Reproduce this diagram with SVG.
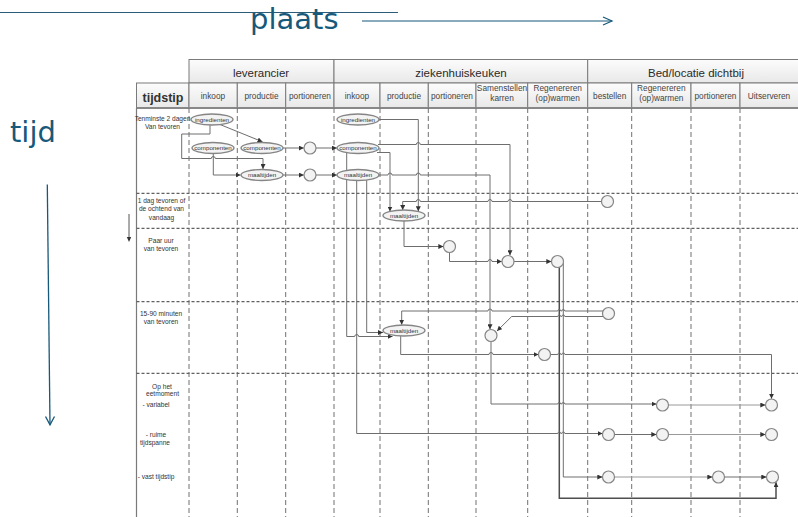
<svg xmlns="http://www.w3.org/2000/svg" width="798" height="517" viewBox="0 0 798 517">
<defs>
<linearGradient id="hg" x1="0" y1="0" x2="0" y2="1">
<stop offset="0" stop-color="#fcfcfc"/>
<stop offset="1" stop-color="#e8e8e8"/>
</linearGradient>
<marker id="ar" viewBox="0 0 10 10" refX="10" refY="5" markerWidth="5" markerHeight="5" markerUnits="userSpaceOnUse" orient="auto">
<path d="M0,0 L10,5 L0,10 z" fill="#333"/>
</marker>
</defs>
<style>
text { font-family: "Liberation Sans", Arial, sans-serif; }
.big { font-family: "DejaVu Sans", Verdana, sans-serif; font-size: 29px; fill: #17597a; }
.h1 { font-size: 11.5px; fill: #2a2a2a; text-anchor: middle; }
.h2 { font-size: 8.3px; fill: #444; text-anchor: middle; }
.row { font-size: 6.6px; fill: #333; text-anchor: middle; }
.lbl { font-size: 6.2px; fill: #333; text-anchor: middle; }
.cell { fill: url(#hg); stroke: #7a7a7a; stroke-width: 1; }
.vd { stroke: #707070; stroke-width: 1; stroke-dasharray: 5 3; fill: none; }
.hd { stroke: #606060; stroke-width: 1.2; stroke-dasharray: 3 2; fill: none; }
.el { fill: #f3f3f3; stroke: #858585; stroke-width: 1.4; }
.ci { fill: #f3f3f3; stroke: #858585; stroke-width: 1.2; }
.cn { fill: none; stroke: #6e6e6e; stroke-width: 1; marker-end: url(#ar); }
</style>
<rect width="798" height="517" fill="#ffffff"/>

<!-- axes -->
<g id="axes">
<line x1="0" y1="12.5" x2="398" y2="12.5" stroke="#2b5d78" stroke-width="1"/>
<text class="big" x="250" y="29">plaats</text>
<line x1="362" y1="21" x2="612" y2="21" stroke="#17597a" stroke-width="1.2"/>
<polyline points="603,17 612,21 603,25" fill="none" stroke="#17597a" stroke-width="1.2"/>
<text class="big" x="10" y="141.5">tijd</text>
<line x1="47.3" y1="184.5" x2="50" y2="424.5" stroke="#17597a" stroke-width="1.3"/>
<polyline points="45.5,416.5 50,424.8 54.5,416.5" fill="none" stroke="#17597a" stroke-width="1.3"/>
<line x1="129" y1="214" x2="129" y2="238" stroke="#444" stroke-width="0.9"/>
<path d="M126.8,237 L129,242 L131.2,237 z" fill="#333"/>
</g>

<!-- table -->
<g id="table">
<rect class="cell" x="189" y="59.5" width="145" height="23.5"/>
<rect class="cell" x="334" y="59.5" width="253.7" height="23.5"/>
<rect class="cell" x="587.7" y="59.5" width="215" height="23.5"/>
<rect class="cell" x="136.5" y="83" width="52.5" height="25"/>
<rect class="cell" x="189" y="83" width="48.3" height="25"/>
<rect class="cell" x="237.3" y="83" width="48.4" height="25"/>
<rect class="cell" x="285.7" y="83" width="48.3" height="25"/>
<rect class="cell" x="334" y="83" width="46" height="25"/>
<rect class="cell" x="380" y="83" width="48.3" height="25"/>
<rect class="cell" x="428.3" y="83" width="47.7" height="25"/>
<rect class="cell" x="476" y="83" width="51.7" height="25"/>
<rect class="cell" x="527.7" y="83" width="60" height="25"/>
<rect class="cell" x="587.7" y="83" width="44" height="25"/>
<rect class="cell" x="631.7" y="83" width="59.3" height="25"/>
<rect class="cell" x="691" y="83" width="49" height="25"/>
<rect class="cell" x="740" y="83" width="62" height="25"/>
<line x1="136.5" y1="108" x2="798" y2="108" stroke="#888" stroke-width="1.8"/>
<line x1="136.5" y1="108" x2="136.5" y2="517" stroke="#7a7a7a" stroke-width="1.2"/>

<text class="h1" x="261" y="76.5">leverancier</text>
<text class="h1" x="461" y="76.5">ziekenhuiskeuken</text>
<text class="h1" x="696" y="76.5">Bed/locatie dichtbij</text>
<text x="163" y="101.5" style="font-size:12.5px;font-weight:bold;fill:#333;text-anchor:middle">tijdstip</text>
<text class="h2" x="213" y="99">inkoop</text>
<text class="h2" x="261.5" y="99">productie</text>
<text class="h2" x="310" y="99">portioneren</text>
<text class="h2" x="357" y="99">inkoop</text>
<text class="h2" x="404" y="99">productie</text>
<text class="h2" x="452" y="99">portioneren</text>
<text class="h2" x="502" y="91">Samenstellen</text>
<text class="h2" x="502" y="100.5">karren</text>
<text class="h2" x="557.7" y="91">Regenereren</text>
<text class="h2" x="557.7" y="100.5">(op)warmen</text>
<text class="h2" x="609.7" y="98.5">bestellen</text>
<text class="h2" x="661.3" y="91">Regenereren</text>
<text class="h2" x="661.3" y="100.5">(op)warmen</text>
<text class="h2" x="715.5" y="98.5">portioneren</text>
<text class="h2" x="769" y="98.5">Uitserveren</text>

<g id="grid">
<line class="vd" x1="189" y1="108" x2="189" y2="517"/>
<line class="vd" x1="237.3" y1="108" x2="237.3" y2="517"/>
<line class="vd" x1="285.7" y1="108" x2="285.7" y2="517"/>
<line class="vd" x1="334" y1="108" x2="334" y2="517"/>
<line class="vd" x1="380" y1="108" x2="380" y2="517"/>
<line class="vd" x1="428.3" y1="108" x2="428.3" y2="517"/>
<line class="vd" x1="476" y1="108" x2="476" y2="517"/>
<line class="vd" x1="527.7" y1="108" x2="527.7" y2="517"/>
<line class="vd" x1="587.7" y1="108" x2="587.7" y2="517"/>
<line class="vd" x1="631.7" y1="108" x2="631.7" y2="517"/>
<line class="vd" x1="691" y1="108" x2="691" y2="517"/>
<line class="vd" x1="740" y1="108" x2="740" y2="517"/>
<line class="hd" x1="136.5" y1="193.3" x2="798" y2="193.3"/>
<line class="hd" x1="136.5" y1="228.3" x2="798" y2="228.3"/>
<line class="hd" x1="136.5" y1="301.7" x2="798" y2="301.7"/>
<line class="hd" x1="136.5" y1="373.3" x2="798" y2="373.3"/>
</g>

<g id="rowlabels">
<text class="row" x="162.5" y="120.5">Tenminste 2 dagen</text>
<text class="row" x="162.5" y="129">Van tevoren</text>
<text class="row" x="161.5" y="202.8">1 dag tevoren of</text>
<text class="row" x="161.5" y="211">de ochtend van</text>
<text class="row" x="161.5" y="219.5">vandaag</text>
<text class="row" x="161" y="243">Paar uur</text>
<text class="row" x="161" y="251">van tevoren</text>
<text class="row" x="161" y="316">15-90 minuten</text>
<text class="row" x="161" y="323.8">van tevoren</text>
<text class="row" x="162" y="389">Op het</text>
<text class="row" x="162.5" y="396.3">eetmoment</text>
<text class="row" x="156" y="407.3">- variabel</text>
<text class="row" x="156" y="437.3">- ruime</text>
<text class="row" x="155" y="444.5">tijdspanne</text>
<text class="row" x="156" y="479.3">- vast tijdstip</text>
</g>
</g>

<!-- connectors -->
<g id="connectors">
<path class="cn" d="M220,124.5 L262.5,141.8"/>
<path class="cn" d="M210,125 V134 H181.7 V158.5 H211.3 a2,2 0 0 1 4,0 H263 V169"/>
<path class="cn" d="M213.3,153.5 V175 H240.5"/>
<path class="cn" d="M283,148 H303.8"/>
<path class="cn" d="M316,148 H336.8"/>
<path class="cn" d="M283,175 H303.8"/>
<path class="cn" d="M316,175 H336.8"/>
<path class="cn" d="M379,119.5 H418.3 V211.3"/>
<path class="cn" d="M378,144.5 H416.3 a2,2 0 0 1 4,0 H510 V255.3"/>
<path class="cn" d="M379,175 H388 a2,2 0 0 1 4,0 H416.3 a2,2 0 0 1 4,0 H490 V329.3"/>
<path class="cn" d="M377,152.5 H390 V211.5"/>
<path class="cn" d="M601.5,201.5 H512 a2,2 0 0 0 -4,0 H492 a2,2 0 0 0 -4,0 H420.3 a2,2 0 0 0 -4,0 H402.7 V210"/>
<path class="cn" d="M404,221 V246.5 H443.3"/>
<path class="cn" d="M449.5,252.5 V261.5 H488 a2,2 0 0 1 4,0 H501.8"/>
<path class="cn" d="M514,261.5 H551.3"/>
<path class="cn" d="M559.3,267.2 V498.3 H776 V482.3" style="stroke:#4e4e4e;stroke-width:1.5"/>
<path class="cn" d="M563.3,263 V477 H602.3"/>
<path class="cn" d="M603,311 H564.8 a1.5,1.5 0 0 0 -3,0 H560.8 a1.5,1.5 0 0 0 -3,0 H492 a2,2 0 0 0 -4,0 H401.7 V324.7"/>
<path class="cn" d="M603.2,316.5 H564.8 a1.5,1.5 0 0 0 -3,0 H560.8 a1.5,1.5 0 0 0 -3,0 H511.7 L497,331"/>
<path class="cn" d="M346.7,153 V336.5 H354.7 a2,2 0 0 1 4,0 H392.5"/>
<path class="cn" d="M366.7,179.5 V332.5 H383"/>
<path class="cn" d="M356.7,179.5 V433.5 H557.8 a1.5,1.5 0 0 1 3,0 H561.8 a1.5,1.5 0 0 1 3,0 H602.5"/>
<path class="cn" d="M400.7,336 V354.5 H489 a2,2 0 0 1 4,0 H538.5"/>
<path class="cn" d="M491,341.5 V404 H557.8 a1.5,1.5 0 0 1 3,0 H561.8 a1.5,1.5 0 0 1 3,0 H656.5"/>
<path class="cn" d="M550.5,354.5 H557.8 a1.5,1.5 0 0 1 3,0 H561.8 a1.5,1.5 0 0 1 3,0 H771.5 V398.8"/>
<path class="cn" d="M668.5,405 H765.3" style="stroke:#999"/>
<path class="cn" d="M614.5,434.5 H656.3"/>
<path class="cn" d="M668.5,434.5 H765.3" style="stroke:#999"/>
<path class="cn" d="M614.5,477 H712.3" style="stroke:#999"/>
<path class="cn" d="M724.5,477 H766.3"/>
</g>

<!-- nodes -->
<g id="n1"><ellipse class="el" cx="212" cy="119.5" rx="21" ry="5.5"/><text class="lbl" x="212" y="121.6">ingredienten</text></g>
<g id="n2"><ellipse class="el" cx="213" cy="148" rx="21" ry="5.5"/><text class="lbl" x="213" y="150.1">componenten</text></g>
<g id="n3"><ellipse class="el" cx="262" cy="148" rx="21" ry="5.5"/><text class="lbl" x="262" y="150.1">componenten</text></g>
<g id="n4"><ellipse class="el" cx="262" cy="175" rx="21" ry="5.5"/><text class="lbl" x="262" y="177.1">maaltijden</text></g>
<g id="n5"><circle class="ci" cx="310" cy="148" r="6"/></g>
<g id="n6"><circle class="ci" cx="310" cy="175" r="6"/></g>
<g id="n7"><ellipse class="el" cx="358" cy="119.5" rx="21" ry="5.5"/><text class="lbl" x="358" y="121.6">ingredienten</text></g>
<g id="n8"><ellipse class="el" cx="358" cy="148" rx="21" ry="5.5"/><text class="lbl" x="358" y="150.1">componenten</text></g>
<g id="n9"><ellipse class="el" cx="358" cy="175" rx="21" ry="5.5"/><text class="lbl" x="358" y="177.1">maaltijden</text></g>
<g id="n10"><ellipse class="el" cx="404" cy="215.5" rx="21" ry="5.5"/><text class="lbl" x="404" y="217.6">maaltijden</text></g>
<g id="n11"><circle class="ci" cx="607.5" cy="201.5" r="6"/></g>
<g id="n12"><circle class="ci" cx="449.5" cy="246.5" r="6"/></g>
<g id="n13"><circle class="ci" cx="508" cy="261.5" r="6"/></g>
<g id="n14"><circle class="ci" cx="557.5" cy="261.5" r="6"/></g>
<g id="n15"><circle class="ci" cx="608.5" cy="313.5" r="6"/></g>
<g id="n16"><ellipse class="el" cx="404" cy="330.5" rx="21" ry="5.5"/><text class="lbl" x="404" y="332.6">maaltijden</text></g>
<g id="n17"><circle class="ci" cx="491" cy="335.5" r="6"/></g>
<g id="n18"><circle class="ci" cx="544.5" cy="354.5" r="6"/></g>
<g id="n19"><circle class="ci" cx="662.5" cy="405" r="6"/></g>
<g id="n20"><circle class="ci" cx="771.5" cy="405" r="6"/></g>
<g id="n21"><circle class="ci" cx="608.5" cy="434.5" r="6"/></g>
<g id="n22"><circle class="ci" cx="662.5" cy="434.5" r="6"/></g>
<g id="n23"><circle class="ci" cx="771.5" cy="434.5" r="6"/></g>
<g id="n24"><circle class="ci" cx="608.5" cy="477" r="6"/></g>
<g id="n25"><circle class="ci" cx="718.5" cy="477" r="6"/></g>
<g id="n26"><circle class="ci" cx="772.5" cy="477" r="6"/></g>
</svg>
